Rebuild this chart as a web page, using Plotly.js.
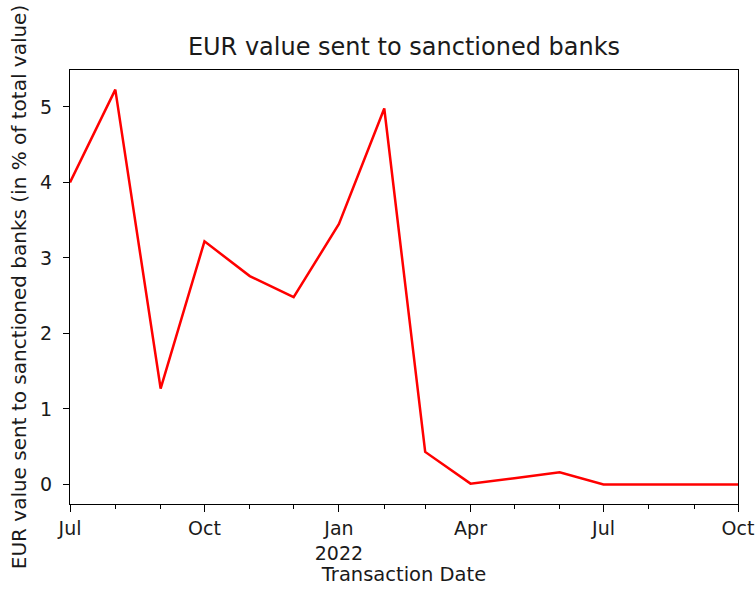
<!DOCTYPE html>
<html>
<head>
<meta charset="utf-8">
<script src="https://cdn.plot.ly/plotly-3.0.1.min.js"></script>
<style>
  html, body { margin: 0; padding: 0; background: #fff; }
  #chart { width: 755px; height: 590px; }
</style>
</head>
<body>
<div id="chart"></div>
<script>
// Monthly share of EUR value sent to sanctioned banks (% of total value)
const months = [
  '2021-07-01', '2021-08-01', '2021-09-01', '2021-10-01', '2021-11-01', '2021-12-01',
  '2022-01-01', '2022-02-01', '2022-03-01', '2022-04-01', '2022-05-01', '2022-06-01',
  '2022-07-01', '2022-08-01', '2022-09-01', '2022-10-01'
];
const sanctionedShare = [
  4.00, 5.23, 1.27, 3.22, 2.76, 2.48,
  3.45, 4.98, 0.43, 0.01, 0.08, 0.16,
  0.00, 0.00, 0.00, 0.00
];

// Quarterly major ticks on the date axis
const tickDates = ['2021-07-01', '2021-10-01', '2022-01-01', '2022-04-01', '2022-07-01', '2022-10-01'];
const tickLabels = ['Jul', 'Oct', 'Jan<br>2022', 'Apr', 'Jul', 'Oct'];
const yTicks = [0, 1, 2, 3, 4, 5];

const font = 'DejaVu Sans, sans-serif';
const ink = '#1a1a1a';

const trace = {
  x: months,
  y: sanctionedShare,
  type: 'scatter',
  mode: 'lines',
  line: { color: '#ff0000', width: 2.5 },
  hoverinfo: 'x+y'
};

const layout = {
  width: 755,
  height: 590,
  margin: { l: 70, r: 17, t: 70, b: 86 },
  paper_bgcolor: '#fff',
  plot_bgcolor: '#fff',
  showlegend: false,
  font: { family: font, color: ink, size: 20 },
  title: {
    text: 'EUR value sent to sanctioned banks',
    font: { family: font, size: 24, color: ink },
    x: 0.5, xref: 'paper', xanchor: 'center',
    y: 1 - 47 / 590, yref: 'container', yanchor: 'middle'
  },
  xaxis: {
    type: 'date',
    range: ['2021-07-01', '2022-10-01'],
    tickmode: 'array',
    tickvals: tickDates,
    ticktext: tickLabels,
    ticks: 'outside',
    ticklen: 7,
    tickwidth: 1,
    tickcolor: '#000',
    tickfont: { family: font, size: 19, color: ink },
    minor: { dtick: 'M1', tick0: '2021-07-01', ticks: 'outside', ticklen: 4, tickwidth: 1, tickcolor: '#000', showgrid: false },
    showgrid: false,
    zeroline: false,
    showline: true,
    mirror: true,
    linecolor: '#000',
    linewidth: 1,
    title: { text: 'Transaction Date', font: { family: font, size: 19.5, color: ink }, standoff: 4 }
  },
  yaxis: {
    range: [-0.26, 5.49],
    tickmode: 'array',
    tickvals: yTicks,
    ticks: 'outside',
    ticklen: 6,
    tickwidth: 1,
    tickcolor: '#000',
    ticklabelstandoff: 7,
    tickfont: { family: font, size: 19, color: ink },
    showgrid: false,
    zeroline: false,
    showline: true,
    mirror: true,
    linecolor: '#000',
    linewidth: 1,
    title: { text: 'EUR value sent to sanctioned banks (in % of total value)', font: { family: font, size: 20, color: ink }, standoff: 8 }
  }
};

Plotly.newPlot('chart', [trace], layout, { displayModeBar: false, staticPlot: true });
</script>
</body>
</html>
